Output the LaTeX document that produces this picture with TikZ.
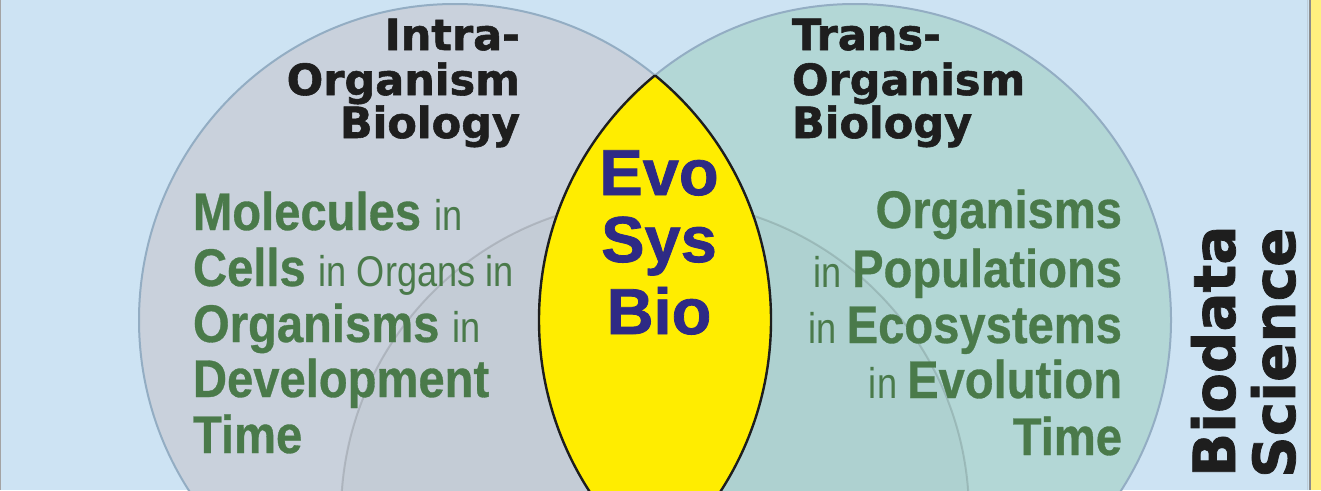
\documentclass[tikz,border=0pt]{standalone}
\usepackage{fontspec}
\newfontfamily\dvfont{DejaVu Sans}[BoldFeatures={FakeBold=1.3}]
\newfontfamily\nbfont{Liberation Sans}[FakeStretch=0.89,BoldFeatures={FakeBold=0.6}]
\newfontfamily\nrfont{Liberation Sans}[FakeStretch=0.84]
\newfontfamily\lsfont{Liberation Sans}[BoldFeatures={FakeBold=1.2}]
\definecolor{bgblue}{HTML}{CDE3F3}
\definecolor{leftfill}{HTML}{C9D1DC}
\definecolor{rightfill}{HTML}{B3D7D6}
\definecolor{ringcol}{HTML}{93ADC3}
\definecolor{lensyellow}{HTML}{FFED00}
\definecolor{txtdark}{HTML}{1E1E1E}
\definecolor{grn}{HTML}{4A7A4A}
\definecolor{evoblue}{HTML}{2E2A85}
\definecolor{stripyellow}{HTML}{FFF17F}
\definecolor{stripgrey}{HTML}{8C8C8C}
\newcommand{\grnB}{\nbfont\bfseries\fontsize{53}{56}\selectfont}
\newcommand{\grnR}{\nrfont\mdseries\fontsize{43}{56}\selectfont}
\begin{document}
\begin{tikzpicture}[x=1pt,y=-1pt,
  ring/.style={draw=ringcol,line width=2pt},
  thirdring/.style={draw=black,draw opacity=0.12,line width=2pt},
  lensline/.style={draw=txtdark,line width=2.4pt},
  titletxt/.style={font=\dvfont\bfseries\fontsize{43}{44}\selectfont,text=txtdark,inner sep=0pt,outer sep=0pt},
  sidetxt/.style={font=\dvfont\bfseries\fontsize{58}{60}\selectfont,text=txtdark,inner sep=0pt,outer sep=0pt,rotate=90,anchor=base west},
  greentxt/.style={text=grn,inner sep=0pt,outer sep=0pt},
  evotxt/.style={font=\lsfont\bfseries\fontsize{65}{68}\selectfont,text=evoblue,inner sep=0pt,outer sep=0pt,anchor=base}]
\useasboundingbox (0,0) rectangle (1321,490);
\begin{scope}
\clip (0,0) rectangle (1321,490);
\fill[bgblue] (0,0) rectangle (1321,490);
\coordinate (cL) at (455,320);
\coordinate (cR) at (855,320);
\coordinate (cB) at (655,514);
\fill[leftfill] (cL) circle[radius=316pt];
\fill[rightfill] (cR) circle[radius=316pt];
\begin{scope}
\clip (cL) circle[radius=316pt] (cR) circle[radius=316pt];
\fill[black,opacity=0.025] (cB) circle[radius=314pt];
\draw[thirdring] (cB) circle[radius=314pt];
\end{scope}
\draw[ring] (cL) circle[radius=316pt];
\draw[ring] (cR) circle[radius=316pt];
\begin{scope}
\clip (cL) circle[radius=316pt];
\fill[lensyellow] (cR) circle[radius=316pt];
\draw[lensline] (cR) circle[radius=316pt];
\end{scope}
\begin{scope}
\clip (cR) circle[radius=316pt];
\draw[lensline] (cL) circle[radius=316pt];
\end{scope}
% right strip and left edge
\fill[stripyellow] (1310,0) rectangle (1321,490);
\draw[stripgrey,line width=2pt] (1309.5,0) -- (1309.5,490);
\draw[ringcol!60,line width=1pt] (1307.5,0) -- (1307.5,490);
\draw[stripgrey!80,line width=1.5pt] (0.5,0) -- (0.5,490);
\end{scope}
% titles
\node[titletxt,anchor=base east] (intra1) at (520,50) {Intra-};
\node[titletxt,anchor=base east] (intra2) at (520,95) {Organism};
\node[titletxt,anchor=base east] (intra3) at (520,138) {Biology};
\node[titletxt,anchor=base west] (trans1) at (792,50) {Trans-};
\node[titletxt,anchor=base west] (trans2) at (792,95) {Organism};
\node[titletxt,anchor=base west] (trans3) at (792,138) {Biology};
% left green
\node[greentxt,anchor=base west] (l1) at (193,230) {\grnB Molecules \grnR in};
\node[greentxt,anchor=base west] (l2) at (193,286) {\grnB Cells \grnR in Organs in};
\node[greentxt,anchor=base west] (l3) at (193,342) {\grnB Organisms \grnR in};
\node[greentxt,anchor=base west] (l4) at (193,397) {\grnB Development};
\node[greentxt,anchor=base west] (l5) at (193,453) {\grnB Time};
% right green
\node[greentxt,anchor=base east] (r1) at (1122,228) {\grnB Organisms};
\node[greentxt,anchor=base east] (r2) at (1122,287) {\grnR in \grnB Populations};
\node[greentxt,anchor=base east] (r3) at (1122,343) {\grnR in \grnB Ecosystems};
\node[greentxt,anchor=base east] (r4) at (1122,398) {\grnR in \grnB Evolution};
\node[greentxt,anchor=base east] (r5) at (1122,455) {\grnB Time};
% center
\node[evotxt] (evo) at (659,195) {Evo};
\node[evotxt] (sys) at (659,262) {Sys};
\node[evotxt] (bio) at (659,334) {Bio};
% side
\node[sidetxt] (biodata) at (1235,477) {Biodata};
\node[sidetxt] (science) at (1295,478) {Science};
\end{tikzpicture}
\end{document}
